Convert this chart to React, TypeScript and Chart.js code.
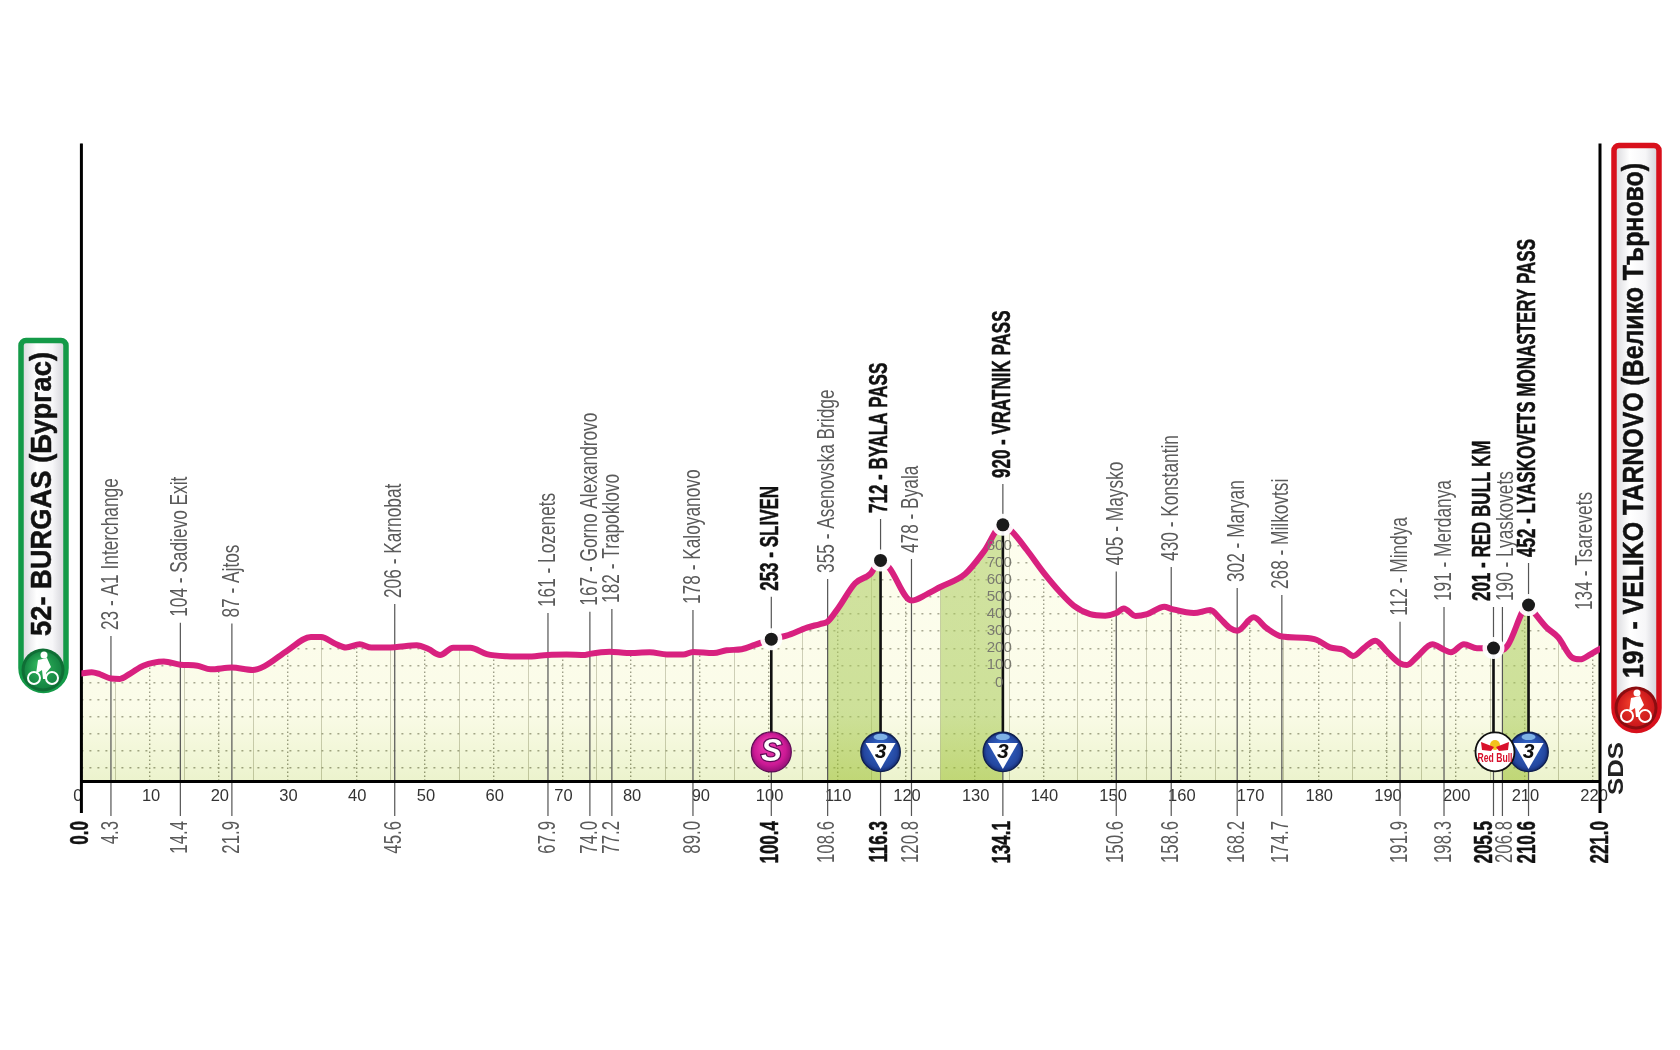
import React, { useEffect, useRef } from "react";
import Chart from "chart.js/auto";

// ---------- data ----------
const profileKm = [0, 1.5, 2.7, 4.3, 5.6, 7.1, 9, 12, 14.4, 16.9, 18.8, 21.9, 24.9, 26.6, 30, 33.4, 34.9, 36.8, 38.5, 40.5, 42.2, 45.6, 48.8, 50.5, 52.2, 54.1, 56.6, 59, 61.9, 64.8, 67.9, 70.6, 73.3, 74, 76.9, 79.4, 82.7, 85.2, 87.6, 89, 92, 93.9, 96.1, 98, 100.4, 102.6, 105.6, 107.5, 108.6, 110.2, 112.6, 114.8, 116.3, 117.5, 120.8, 123, 125, 128.6, 131.3, 134.1, 135.4, 137.6, 140, 142.5, 144.4, 146.8, 149, 150.6, 151.7, 153.4, 155.1, 157.6, 158.6, 161.9, 164.3, 165.7, 167.2, 168.2, 170.6, 172.5, 174.7, 177.8, 179.8, 181.7, 183.7, 185.1, 186.6, 188.3, 190, 191.9, 192.9, 194.4, 196.6, 198.3, 199.3, 201.2, 203.1, 205.5, 206.8, 207.6, 210.6, 211.5, 213.2, 214.9, 216.9, 218.1, 219.6, 221];
const profileElev = [52, 60, 48, 23, 21, 52, 98, 123, 104, 98, 77, 87, 73, 94, 187, 265, 265, 229, 204, 223, 204, 206, 217, 195, 160, 203, 203, 166, 153, 151, 161, 163, 160, 167, 180, 172, 176, 164, 163, 178, 172, 188, 194, 219, 253, 273, 320, 341, 355, 438, 579, 633, 712, 672, 478, 514, 557, 633, 762, 920, 881, 773, 643, 524, 449, 399, 390, 405, 432, 388, 399, 442, 430, 405, 423, 374, 316, 302, 380, 316, 268, 261, 248, 205, 190, 155, 200, 244, 180, 112, 102, 151, 223, 191, 176, 223, 200, 201, 190, 219, 452, 405, 322, 264, 147, 135, 164, 197];

const placeKm = [4.3, 14.4, 21.9, 45.6, 67.9, 74.0, 77.2, 89.0, 100.4, 108.6, 116.3, 120.8, 134.1, 150.6, 158.6, 168.2, 174.7, 191.9, 198.3, 205.5, 206.8, 210.6];
const placeElev = [23, 104, 87, 206, 161, 167, 182, 178, 253, 355, 712, 478, 920, 405, 430, 302, 268, 112, 191, 201, 190, 452];
const placeName = ["A1 Interchange", "Sadievo Exit", "Ajtos", "Karnobat", "Lozenets", "Gorno Alexandrovo", "Trapoklovo", "Kaloyanovo", "SLIVEN", "Asenovska Bridge", "BYALA PASS", "Byala", "VRATNIK PASS", "Maysko", "Konstantin", "Maryan", "Milkovtsi", "Mindya", "Merdanya", "RED BULL KM", "Lyaskovets", "LYASKOVETS MONASTERY PASS"];
const placeBold = [0, 0, 0, 0, 0, 0, 0, 0, 1, 0, 1, 0, 1, 0, 0, 0, 0, 0, 0, 1, 0, 1];
const leaderTopElev = [271, 348, 344, 458, 405, 413, 429, 423, 500, 604, 954, 720, 1158, 648, 674, 551, 510, 355, 440, 440, 440, 697];
const summitKm = [100.4, 116.3, 134.1, 205.5, 210.6];
const summitElev = [253, 712, 920, 201, 452];
const komKm = [116.3, 134.1, 210.6];
const sprintKm = [100.4];
const redBullKm = [205.5];
const climbRanges = [[108.6, 116.3], [125, 134.1], [206.8, 210.6]];
const floatingKm = 218.9;
const floatingLabel = "134 - Tsarevets";
const startKm = 0;
const finishKm = 221;
const startLabel = "52- BURGAS (Бургас)";
const finishLabel = "197 - VELIKO TARNOVO (Велико Търново)";
const elevTicksShown = [0, 100, 200, 300, 400, 500, 600, 700, 800];

// ---------- layout / style constants ----------
const ELEV_MIN = -574.7, ELEV_MAX = 3144, LEADER_FOOT = -779, FRAME_FOOT = -761, ICON_ELEV = -405;
const NARROW = '"Liberation Sans Narrow", "Liberation Sans", sans-serif';
const labelShift: Record<number, number> = { 205.5: -10, 206.8: 4 };
const kmShift: Record<number, number> = { 205.5: -8, 206.8: 3 };

function rotText(ctx: any, text: string, x: number, y: number, font: string, color: string, align: string, sx: number, fit?: number, weight = 0) {
  ctx.save();
  ctx.translate(x, y);
  ctx.rotate(-Math.PI / 2);
  ctx.font = font;
  ctx.fillStyle = color;
  ctx.textAlign = align;
  ctx.textBaseline = "middle";
  const s = fit ? fit / ctx.measureText(text).width : sx;
  ctx.scale(s, 1);
  if (weight > 0) { ctx.lineWidth = weight; ctx.strokeStyle = color; ctx.lineJoin = "round"; ctx.strokeText(text, 0, 0); }
  ctx.fillText(text, 0, 0);
  ctx.restore();
}

function drawCyclist(ctx: any, cx: number, cy: number, fill: string, rim: string, dark: string) {
  ctx.save();
  ctx.beginPath(); ctx.arc(cx, cy, 21.5, 0, 7);
  ctx.fillStyle = rim; ctx.fill();
  const g = ctx.createRadialGradient(cx - 4, cy - 6, 2, cx, cy, 20);
  g.addColorStop(0, fill); g.addColorStop(1, dark);
  ctx.beginPath(); ctx.arc(cx, cy, 18.5, 0, 7);
  ctx.fillStyle = g; ctx.fill();
  ctx.strokeStyle = "#fff"; ctx.fillStyle = "#fff"; ctx.lineWidth = 2;
  ctx.beginPath(); ctx.arc(cx - 9, cy + 8, 6, 0, 7); ctx.stroke();
  ctx.beginPath(); ctx.arc(cx + 9, cy + 8, 6, 0, 7); ctx.stroke();
  ctx.beginPath(); ctx.arc(cx + 1, cy - 15, 3.5, 0, 7); ctx.fill();
  ctx.beginPath();
  ctx.moveTo(cx - 7, cy + 4); ctx.lineTo(cx - 5, cy - 10); ctx.lineTo(cx + 4, cy - 12);
  ctx.lineTo(cx + 8, cy - 3); ctx.lineTo(cx + 3, cy + 3); ctx.lineTo(cx + 4, cy + 9);
  ctx.lineTo(cx, cy + 9); ctx.lineTo(cx - 1, cy); ctx.closePath(); ctx.fill();
  ctx.restore();
}

function roundedBox(ctx: any, x: number, y: number, w: number, h: number, stroke: string) {
  ctx.save();
  const g = ctx.createLinearGradient(x, 0, x + w, 0);
  g.addColorStop(0, "#d6d6da"); g.addColorStop(0.35, "#ffffff"); g.addColorStop(0.7, "#f6f6f8"); g.addColorStop(1, "#cfcfd5");
  ctx.beginPath();
  ctx.roundRect(x, y, w, h, [5, 5, w / 2, w / 2]);
  ctx.fillStyle = g; ctx.fill();
  ctx.lineWidth = 5.5; ctx.strokeStyle = stroke; ctx.stroke();
  ctx.restore();
}

function drawKom(ctx: any, cx: number, cy: number) {
  ctx.save();
  const g = ctx.createRadialGradient(cx, cy - 4, 6, cx, cy, 20);
  g.addColorStop(0, "#2f5fc0"); g.addColorStop(0.75, "#24479f"); g.addColorStop(1, "#142a70");
  ctx.beginPath(); ctx.arc(cx, cy, 19.7, 0, 7);
  ctx.fillStyle = g; ctx.fill();
  ctx.strokeStyle = "#10204f"; ctx.lineWidth = 1.4; ctx.stroke();
  ctx.beginPath(); ctx.ellipse(cx, cy - 15, 7, 3.2, 0, 0, 7);
  ctx.fillStyle = "#7fb2e6"; ctx.fill();
  ctx.beginPath(); ctx.moveTo(cx - 15, cy - 9); ctx.lineTo(cx + 15, cy - 9); ctx.lineTo(cx, cy + 17); ctx.closePath();
  ctx.fillStyle = "#fff"; ctx.fill();
  ctx.fillStyle = "#111"; ctx.font = 'italic bold 21px "Liberation Sans"'; ctx.textAlign = "center"; ctx.textBaseline = "middle";
  ctx.fillText("3", cx, cy + 0.5);
  ctx.restore();
}

function drawSprint(ctx: any, cx: number, cy: number) {
  ctx.save();
  const g = ctx.createRadialGradient(cx - 4, cy - 8, 3, cx, cy, 21);
  g.addColorStop(0, "#ee3bb0"); g.addColorStop(0.7, "#cc1a95"); g.addColorStop(1, "#8c0f72");
  ctx.beginPath(); ctx.arc(cx, cy, 20, 0, 7);
  ctx.fillStyle = g; ctx.fill();
  ctx.strokeStyle = "#5e0c55"; ctx.lineWidth = 1.2; ctx.stroke();
  ctx.font = 'italic bold 31px "Liberation Sans"'; ctx.textAlign = "center"; ctx.textBaseline = "middle";
  ctx.lineWidth = 2.5; ctx.strokeStyle = "#5e0c55"; ctx.strokeText("S", cx, cy + 1);
  ctx.fillStyle = "#fff"; ctx.fillText("S", cx, cy + 1);
  ctx.restore();
}

function drawRedBull(ctx: any, cx: number, cy: number) {
  ctx.save();
  ctx.beginPath(); ctx.arc(cx, cy, 19.5, 0, 7);
  ctx.fillStyle = "#fff"; ctx.fill();
  ctx.strokeStyle = "#111"; ctx.lineWidth = 1.8; ctx.stroke();
  ctx.beginPath(); ctx.arc(cx, cy - 7, 5, 0, 7); ctx.fillStyle = "#f3c21b"; ctx.fill();
  ctx.fillStyle = "#d8102c";
  ctx.beginPath(); ctx.moveTo(cx - 14, cy - 10); ctx.lineTo(cx - 1, cy - 5); ctx.lineTo(cx - 4, cy - 1); ctx.lineTo(cx - 13, cy - 2); ctx.closePath(); ctx.fill();
  ctx.beginPath(); ctx.moveTo(cx + 14, cy - 10); ctx.lineTo(cx + 1, cy - 5); ctx.lineTo(cx + 4, cy - 1); ctx.lineTo(cx + 13, cy - 2); ctx.closePath(); ctx.fill();
  ctx.font = 'bold 13px ' + NARROW; ctx.textAlign = "center"; ctx.textBaseline = "middle";
  ctx.translate(cx, cy + 6.5);
  const w = ctx.measureText("Red Bull").width;
  ctx.scale(35 / w, 1);
  ctx.fillText("Red Bull", 0, 0);
  ctx.restore();
}

const decorPlugin = {
  id: "decor",
  beforeDatasetsDraw(chart: any) {
    const { ctx, chartArea } = chart;
    ctx.save();
    ctx.fillStyle = "#fff";
    ctx.fillRect(chartArea.left, chartArea.top - 2, chartArea.right - chartArea.left, 4);
    ctx.restore();
  },
  afterDraw(chart: any) {
    const { ctx, scales } = chart;
    const X = (k: number) => scales.x.getPixelForValue(k);
    const Y = (e: number) => scales.y.getPixelForValue(e);
    const iconY = Y(ICON_ELEV);
    const normalFont = `24px ${NARROW}`, boldFont = `bold 25px ${NARROW}`;

    placeKm.forEach((km, i) => {
      const bold = placeBold[i] === 1;
      const txt = `${placeElev[i]} - ${placeName[i]}`;
      const color = bold ? "#111" : "#5a5a5a";
      const font = bold ? boldFont : normalFont;
      rotText(ctx, txt, X(km) + (labelShift[km] || 0), Y(leaderTopElev[i]) - 6, font, color, "left", bold ? 0.68 : 0.72, undefined, bold ? 0.5 : 0);
      rotText(ctx, km.toFixed(1), X(km) + (kmShift[km] || 0), Y(LEADER_FOOT) + 5, font, color, "right", bold ? 0.68 : 0.7, undefined, bold ? 0.5 : 0);
    });
    rotText(ctx, floatingLabel, X(floatingKm), 610, normalFont, "#5a5a5a", "left", 0.72);
    rotText(ctx, startKm.toFixed(1), X(startKm) - 0.5, Y(LEADER_FOOT) + 5, boldFont, "#111", "right", 0.68, undefined, 0.5);
    rotText(ctx, finishKm.toFixed(1), X(finishKm) + 1, Y(LEADER_FOOT) + 5, boldFont, "#111", "right", 0.68, undefined, 0.5);

    komKm.forEach((k) => drawKom(ctx, X(k), iconY));
    sprintKm.forEach((k) => drawSprint(ctx, X(k), iconY));
    redBullKm.forEach((k) => drawRedBull(ctx, X(k) + 1.5, iconY));

    roundedBox(ctx, 21, 340.5, 45, 350, "#149a48");
    rotText(ctx, startLabel, 43, 636, 'bold 29px "Liberation Sans"', "#111", "left", 1, 284, 0.5);
    drawCyclist(ctx, 43, 670, "#2fb45c", "#0f6e35", "#12803f");

    roundedBox(ctx, 1614, 145.5, 45, 585, "#d8101c");
    rotText(ctx, finishLabel, 1635, 678, 'bold 29px "Liberation Sans"', "#111", "left", 1, 515, 0.5);
    drawCyclist(ctx, 1636, 708, "#ee3b2a", "#8c0d10", "#c9151a");

    rotText(ctx, "SDS", 1617, 795, 'bold 22px "Liberation Sans"', "#222", "left", 1, 53);
  },
};

export default function App() {
  const ref = useRef<HTMLCanvasElement>(null);
  useEffect(() => {
    const canvas = ref.current!;
    const ctx = canvas.getContext("2d")!;
    const base = ctx.createLinearGradient(0, 490, 0, 781);
    base.addColorStop(0, "rgba(253,253,226,0.55)");
    base.addColorStop(0.75, "rgba(247,249,214,0.55)");
    base.addColorStop(1, "rgba(220,233,164,0.55)");
    const green = ctx.createLinearGradient(0, 560, 0, 781);
    green.addColorStop(0, "rgba(172,204,95,0.55)");
    green.addColorStop(0.7, "rgba(168,202,88,0.55)");
    green.addColorStop(1, "rgba(155,191,46,0.55)");

    const profile = profileKm.map((x, i) => ({ x, y: profileElev[i] }));
    const gapped = (rows: number[][]) => rows.flatMap(([km, a, b]) => [{ x: km, y: a }, { x: km, y: b }, { x: km, y: null }]);
    const isBold = (i: number) => placeBold[i] === 1;

    const chart = new Chart(canvas, {
      type: "line",
      plugins: [decorPlugin],
      data: {
        datasets: [
          { data: profile, order: 10, fill: "end", backgroundColor: "#fff", borderWidth: 0, pointRadius: 0, cubicInterpolationMode: "monotone" },
          { data: profile, order: 9, fill: "start", backgroundColor: base, borderWidth: 0, pointRadius: 0, cubicInterpolationMode: "monotone" },
          ...climbRanges.map(([a, b]) => ({
            data: profile.filter((p) => p.x >= a && p.x <= b),
            order: 8, fill: "start", backgroundColor: green, borderWidth: 0, pointRadius: 0, cubicInterpolationMode: "monotone",
          })),
          {
            data: gapped(placeKm.map((km, i) => [km, leaderTopElev[i], LEADER_FOOT])),
            order: 7, clip: false, borderColor: "#555", borderWidth: 1.2, pointRadius: 0, spanGaps: false,
          },
          {
            data: gapped(placeKm.map((km, i) => [km, placeElev[i], ICON_ELEV]).filter((_, i) => isBold(i))),
            order: 6, clip: false, borderColor: "#111", borderWidth: 2.6, pointRadius: 0, spanGaps: false,
          },
          {
            data: gapped([startKm, finishKm].map((km) => [km, ELEV_MAX, FRAME_FOOT])),
            order: 5, clip: false, borderColor: "#000", borderWidth: 3, pointRadius: 0, spanGaps: false,
          },
          { data: profile, order: 4, fill: false, borderColor: "#d8217f", borderWidth: 6, pointRadius: 0, cubicInterpolationMode: "monotone", borderCapStyle: "round" },
          { data: summitKm.map((x, i) => ({ x, y: summitElev[i] })), order: 3, showLine: false, pointRadius: 11, pointBackgroundColor: "rgba(255,255,255,0.95)", pointBorderWidth: 0, clip: false },
          { data: summitKm.map((x, i) => ({ x, y: summitElev[i] })), order: 2, showLine: false, pointRadius: 6.5, pointBackgroundColor: "#1a1a1a", pointBorderWidth: 0, clip: false },
        ],
      } as any,
      options: {
        responsive: false,
        animation: false,
        events: [],
        layout: { padding: { left: 81.4, right: 80, top: 143.6, bottom: 229 } },
        plugins: { legend: { display: false }, tooltip: { enabled: false } },
        scales: {
          x: {
            type: "linear", position: "bottom", min: 0, max: 221,
            afterFit: (s: any) => { s.height = 40; },
            border: { color: "#000", width: 3, z: 1, dash: [1.5, 2.5] },
            grid: { color: "#2f2f25", lineWidth: 1.4, drawTicks: false },
            ticks: {
              stepSize: 10, includeBounds: false, maxRotation: 0, autoSkip: false, padding: 6, labelOffset: 1, color: "#333",
              font: { family: NARROW, size: 16.5 },
              callback: (v: any) => (v === 0 ? "0  " : String(v)),
            },
          },
          x2: {
            type: "linear", position: "bottom", min: 0, max: 221, axis: "x",
            afterFit: (s: any) => { s.height = 0; },
            afterBuildTicks: (s: any) => { s.ticks = s.ticks.filter((t: any) => t.value % 10 !== 0); },
            border: { display: false },
            grid: { color: "#9a9a8c", lineWidth: 1, drawTicks: false },
            ticks: { stepSize: 5, includeBounds: false, autoSkip: false, display: false },
          },
          y: {
            type: "linear", position: { x: 135.4 }, min: ELEV_MIN, max: ELEV_MAX,
            afterFit: (s: any) => { s.width = 0; },
            border: { display: false, dash: [2, 6] },
            grid: { color: "#46463a", lineWidth: 1.4, drawTicks: false },
            ticks: {
              stepSize: 100, includeBounds: false, autoSkip: false, z: 1, padding: 0,
              color: "#7a7a70", font: { family: NARROW, size: 15 },
              callback: (v: any) => (!elevTicksShown.includes(v) ? "" : v === 0 ? "0  " : String(v)),
            },
          },
        },
      } as any,
    });
    return () => chart.destroy();
  }, []);
  return (
    <div style={{ position: "absolute", left: 0, top: 0, width: 1680, height: 1050, background: "#fff" }}>
      <canvas ref={ref} width={1680} height={1050} style={{ display: "block" }} />
    </div>
  );
}
